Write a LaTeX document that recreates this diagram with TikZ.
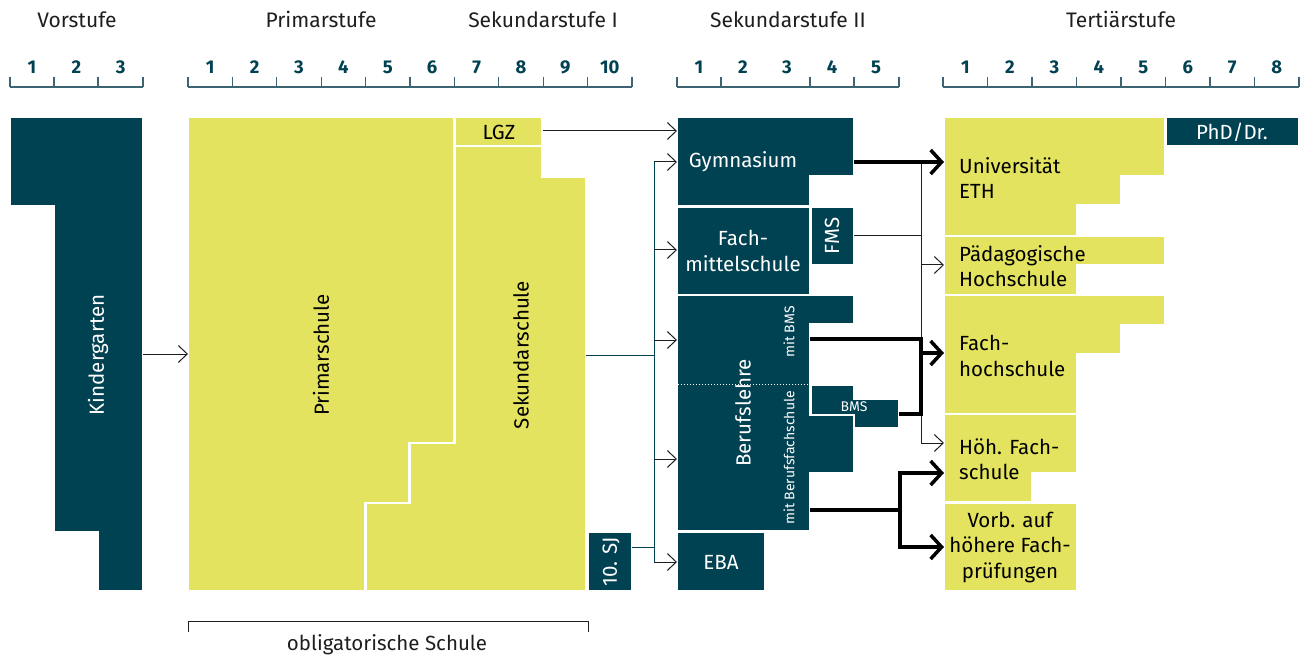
\documentclass[tikz,border=0pt]{standalone}
\usepackage{fontspec}
\setmainfont{Fira Sans}
\usetikzlibrary{arrows.meta}
\definecolor{petrol}{RGB}{0,65,82}
\definecolor{gelb}{RGB}{227,227,95}
\definecolor{skalafarbe}{RGB}{60,100,115}
\definecolor{dunkel}{RGB}{30,30,30}
\begin{document}
\begin{tikzpicture}[x=1pt,y=-1pt,line join=miter,>={Straight Barb[length=9pt,width=17pt]}]

		\tikzset{dbox/.style={fill=petrol,draw=white,line width=2.5pt},
			ybox/.style={fill=gelb,draw=white,line width=2.5pt},
			txt/.style={font=\fontsize{20.5}{25.5}\selectfont,inner sep=0pt},
			wtxt/.style={txt,text=white},
			ktxt/.style={txt,text=black},
			klein/.style={font=\fontsize{14}{16}\selectfont,text=white,inner sep=0pt},
			kopf/.style={font=\fontsize{21}{24}\selectfont,text=dunkel,anchor=base},
			zahl/.style={font=\fontsize{18.5}{20}\selectfont\bfseries,text=petrol},
			skala/.style={draw=skalafarbe,line width=1.2pt},
			link/.style={->,draw=dunkel,line width=1pt},
			strang/.style={draw=petrol,line width=1pt},
			fat/.style={line width=3.5pt,-{Straight Barb[length=11pt,width=24pt]}},
			fatline/.style={line width=3.5pt}}

		\useasboundingbox (0,0) rectangle (1310,655);

		\node[kopf] (h-vor) at (77,28) {Vorstufe};
		\node[kopf] (h-pri) at (321,28) {Primarstufe};
		\node[kopf] (h-sek1) at (543,28) {Sekundarstufe I};
		\node[kopf] (h-sek2) at (788,28) {Sekundarstufe II};
		\node[kopf] (h-ter) at (1121,28) {Tertiärstufe};

		\draw[skala] (10,87) -- (143,87);
		\foreach \x in {10,54,98,143}
		\draw[skala] (\x,77) -- (\x,87);
		\foreach \i in {1,2,3}
		\node[zahl] (v\i) at ({32+44.3*(\i-1)},67) {\i};
		\draw[skala] (188,87) -- (632,87);
		\foreach \i in {0,...,10}
		\draw[skala] ({188+44.4*\i},77) -- ++(0,10);
		\foreach \i in {1,...,10}
		\node[zahl] (p\i) at ({188+44.4*\i-22.2},67) {\i};
		\draw[skala] (677,87) -- (899,87);
		\foreach \x in {677,721,810,854,899}
		\draw[skala] (\x,77) -- (\x,87);
		\foreach \i/\x in {1/699,2/743,3/787,4/832,5/876}
		\node[zahl] (s\i) at (\x,67) {\i};
		\draw[skala] (943,87) -- (1299,87);
		\foreach \i in {0,...,8}
		\draw[skala] ({943+44.5*\i},77) -- ++(0,10);
		\foreach \i in {1,...,8}
		\node[zahl] (t\i) at ({943+44.5*\i-22.2},67) {\i};

		\draw[dbox] (10,117) -- (143,117) -- (143,591) -- (98,591) -- (98,532) -- (54,532) -- (54,206) -- (10,206) -- cycle;
		\node[wtxt,rotate=90] (kg) at (98,355) {Kindergarten};

		\draw[ybox] (188,117) -- (454.5,117) -- (454.5,443) -- (409.5,443) -- (409.5,503) -- (365.5,503) -- (365.5,591) -- (188,591) -- cycle;
		\draw[ybox] (454.5,146) -- (542,146) -- (542,177) -- (586,177) -- (586,591) -- (365.5,591) -- (365.5,503) -- (409.5,503) -- (409.5,443) -- (454.5,443) -- cycle;
		\draw[ybox] (454.5,117) rectangle (542,146);
		\node[ktxt,rotate=90] (prim) at (321,355) {Primarschule};
		\node[ktxt,rotate=90] (sek) at (521,355) {Sekundarschule};
		\node[ktxt] (lgz) at (499,132) {LGZ};
		\draw[dbox] (588,532) rectangle (632,591);
		\node[wtxt,rotate=90] (sj) at (611,562) {10. SJ};

		\draw[dbox] (677,117) -- (854,117) -- (854,176) -- (810.5,176) -- (810.5,206.5) -- (677,206.5) -- cycle;
		\node[wtxt] (gym) at (743,162) {Gymnasium};
		\draw[dbox] (677,206.5) rectangle (810.5,295);
		\node[wtxt,align=center] (fmschule) at (743,251) {Fach-\\mittelschule};
		\draw[dbox] (810.5,206.5) rectangle (854,265);
		\node[wtxt,rotate=90] (fms) at (832,236) {FMS};
		\draw[dbox] (677,295) -- (854,295) -- (854,324) -- (810.5,324) -- (810.5,415) -- (854,415) -- (854,473) -- (810.5,473) -- (810.5,531.5) -- (677,531.5) -- cycle;
		\draw[white,line width=1pt,dotted] (678,384) -- (809,384);
		\node[wtxt,rotate=90] (bl) at (743,413) {Berufslehre};
		\node[klein,rotate=90] (mbms) at (789,332) {mit BMS};
		\node[klein,rotate=90] (mbfs) at (789,458) {mit Berufsfachschule};
		\draw[dbox] (810.5,385) -- (854,385) -- (854,399) -- (899,399) -- (899,428) -- (854,428) -- (854,415) -- (810.5,415) -- cycle;
		\node[klein] (bms) at (854,407) {BMS};
		\draw[dbox] (677,531.5) rectangle (765,591);
		\node[wtxt] (eba) at (721,562) {EBA};

		\draw[ybox] (944,117) -- (1165.5,117) -- (1165.5,176.5) -- (1121,176.5) -- (1121,205.5) -- (1077,205.5) -- (1077,236) -- (944,236) -- cycle;
		\node[ktxt,align=left,anchor=west] (uni) at (959,178) {Universität\\ETH};
		\draw[dbox] (1165.5,117) rectangle (1299,146);
		\node[wtxt] (phd) at (1232,132) {PhD/Dr.};
		\draw[ybox] (944,236) -- (1165.5,236) -- (1165.5,265) -- (1077,265) -- (1077,295) -- (944,295) -- cycle;
		\node[ktxt,align=left,anchor=west] (phs) at (959,266) {Pädagogische\\Hochschule};
		\draw[ybox] (944,295) -- (1165.5,295) -- (1165.5,325) -- (1121,325) -- (1121,354) -- (1077,354) -- (1077,414) -- (944,414) -- cycle;
		\node[ktxt,align=left,anchor=west] (fh) at (959,356) {Fach-\\hochschule};
		\draw[ybox] (944,414) -- (1077,414) -- (1077,473) -- (1032,473) -- (1032,502.5) -- (944,502.5) -- cycle;
		\node[ktxt,align=left,anchor=west] (hf) at (959,459) {Höh. Fach-\\schule};
		\draw[ybox] (944,502.5) rectangle (1077,591);
		\node[ktxt,align=center] (vb) at (1010,547) {Vorb. auf\\höhere Fach-\\prüfungen};

		\coordinate (kg-out) at (143,354);
		\coordinate (prim-in) at (188,354);
		\coordinate (sek-out) at (586,355);
		\coordinate (sj-out) at (632,547);
		\coordinate (lgz-out) at (543,131);
		\coordinate (verteiler) at (654,355);
		\coordinate (lgz-in) at (677,131);
		\coordinate (gym-in) at (677,162);
		\coordinate (fmschule-in) at (677,250);
		\coordinate (bl1-in) at (677,340);
		\coordinate (bl2-in) at (677,459);
		\coordinate (eba-in) at (677,562);
		\coordinate (gym-out) at (854,162);
		\coordinate (fms-out) at (854,236);
		\coordinate (mbms-out) at (810,339);
		\coordinate (bms-out) at (899,414);
		\coordinate (mbfs-out) at (810,510);
		\coordinate (ast) at (921,162);
		\coordinate (gabel) at (900,510);
		\coordinate (uni-in) at (944,162);
		\coordinate (phs-in) at (944,265);
		\coordinate (fh-in) at (944,353);
		\coordinate (hf1-in) at (944,443);
		\coordinate (hf2-in) at (944,473);
		\coordinate (vb-in) at (944,547);

		\draw[link] (kg-out) -- (prim-in);
		\draw[link] (lgz-out) -- (lgz-in);
		\draw[strang] (sek-out) -- (verteiler);
		\draw[strang] (sj-out) -- (sj-out -| verteiler);
		\draw[strang] (gym-in -| verteiler) -- (eba-in -| verteiler);
		\foreach \z in {gym,fmschule,bl1,bl2,eba}
		\draw[link] (\z-in -| verteiler) -- (\z-in);

		\draw[dunkel,line width=1pt] (ast) -- (ast |- hf1-in);
		\draw[dunkel,line width=1pt] (fms-out) -- (fms-out -| ast);
		\draw[link] (phs-in -| ast) -- (phs-in);
		\draw[link] (hf1-in -| ast) -- (hf1-in);
		\draw[fat] (gym-out) -- (uni-in);
		\draw[fatline] (mbms-out) -| (bms-out -| ast) -- (bms-out);
		\draw[fat] (fh-in -| ast) -- (fh-in);
		\draw[fatline] (mbfs-out) -- (gabel);
		\draw[fat] (gabel) |- (hf2-in);
		\draw[fat] (gabel) |- (vb-in);

		\draw[dunkel,line width=1pt] (188,632) -- (188,621) -- (588,621) -- (588,632);
		\node[txt,text=dunkel,anchor=base] (oblig) at (387,650) {obligatorische Schule};
\end{tikzpicture}
\end{document}
